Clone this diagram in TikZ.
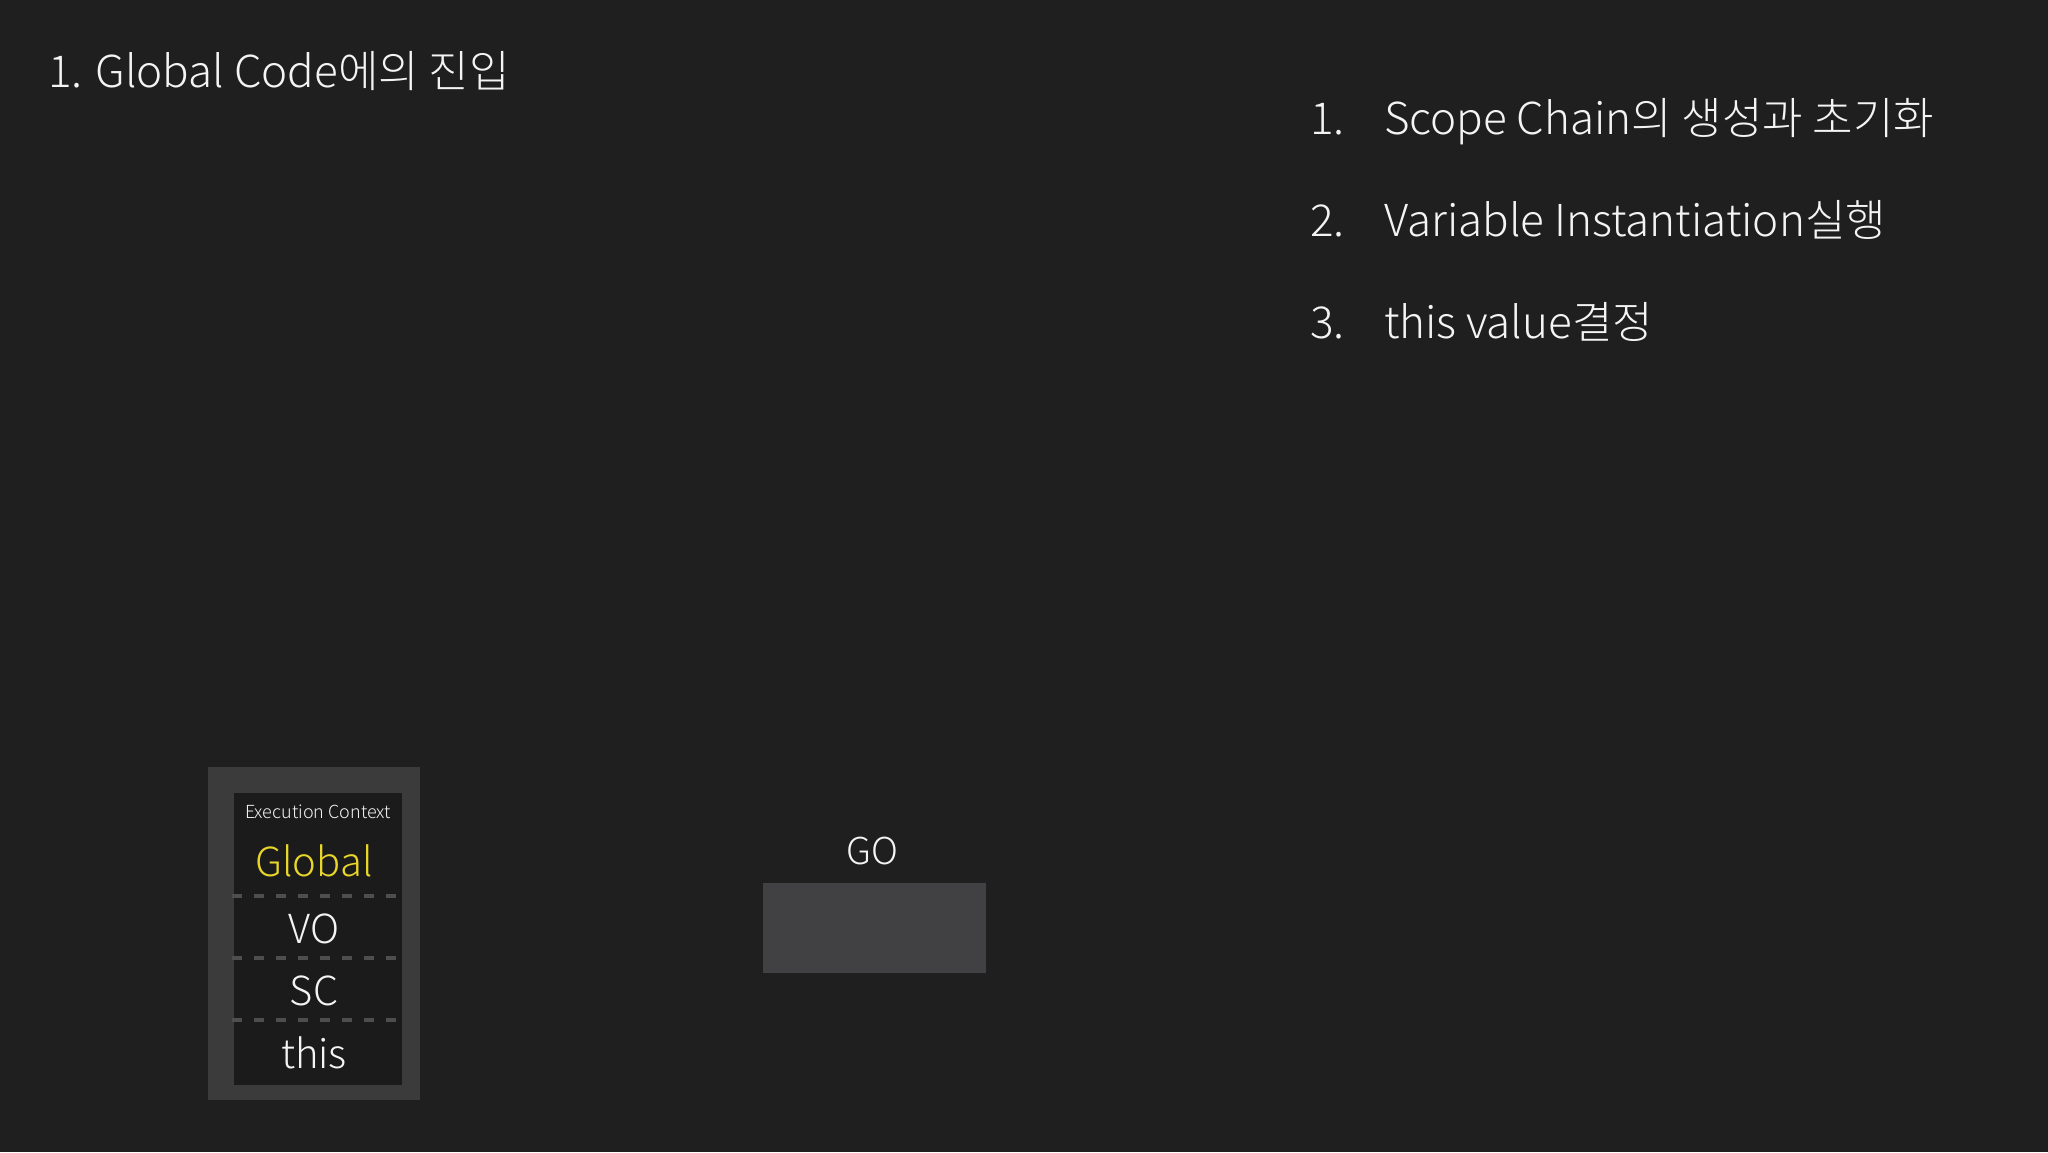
\documentclass[tikz,border=0pt]{standalone}
\usepackage{fontspec}
\setmainfont{Noto Sans CJK KR}[UprightFont={* Light}]
\definecolor{bgc}{HTML}{1F1F1F}
\definecolor{ecouter}{HTML}{3B3B3B}
\definecolor{ecinner}{HTML}{1B1B1B}
\definecolor{sepc}{HTML}{4E4E4E}
\definecolor{yel}{HTML}{E8D62A}
\definecolor{gobox}{HTML}{414042}
\definecolor{fgc}{HTML}{F4F4F4}
\newcommand{\fsz}[1]{\fontsize{#1}{#1}\selectfont}
\begin{document}
\begin{tikzpicture}[x=1pt,y=-1pt,
  every node/.style={inner sep=0pt,outer sep=0pt},
  txt/.style={text=fgc,anchor=base west},
  ctxt/.style={text=fgc,anchor=base},
  sepline/.style={draw=sepc,line width=3.2pt,dash pattern=on 10pt off 12pt}]
\fill[bgc] (0,0) rectangle (2048,1152);
\useasboundingbox (0,0) rectangle (2048,1152);
% title
\node[txt,font=\fsz{44}] (title) at (48,87) {1. Global Code에의 진입};
% list
\node[txt,font=\fsz{44}] (n1) at (1310,134) {1.};
\node[txt,font=\fsz{44}] (t1) at (1384,134) {Scope Chain의 생성과 초기화};
\node[txt,font=\fsz{44}] (n2) at (1310,236) {2.};
\node[txt,font=\fsz{44}] (t2) at (1384,236) {Variable Instantiation실행};
\node[txt,font=\fsz{44}] (n3) at (1310,338) {3.};
\node[txt,font=\fsz{44}] (t3) at (1384,338) {this value결정};
% execution context
\node[fill=ecouter,minimum width=212pt,minimum height=333pt,anchor=north west] (ecout) at (208,767) {};
\node[fill=ecinner,minimum width=168pt,minimum height=292pt,anchor=north west] (ecin) at (234,793) {};
\draw[sepline] (232,896) -- (402,896);
\draw[sepline] (232,958) -- (402,958);
\draw[sepline] (232,1020) -- (402,1020);
\node[ctxt,font=\fsz{18}] (ectitle) at (318,818) {Execution Context};
\node[ctxt,font=\fsz{40},text=yel] (glob) at (314,876) {Global};
\node[ctxt,font=\fsz{40}] (vo) at (314,943) {VO};
\node[ctxt,font=\fsz{40}] (sc) at (314,1005) {SC};
\node[ctxt,font=\fsz{40}] (this) at (314,1068) {this};
% GO
\node[ctxt,font=\fsz{37}] (go) at (872,864) {GO};
\node[fill=gobox,minimum width=223pt,minimum height=90pt,anchor=north west] (gob) at (763,883) {};
\end{tikzpicture}
\end{document}
